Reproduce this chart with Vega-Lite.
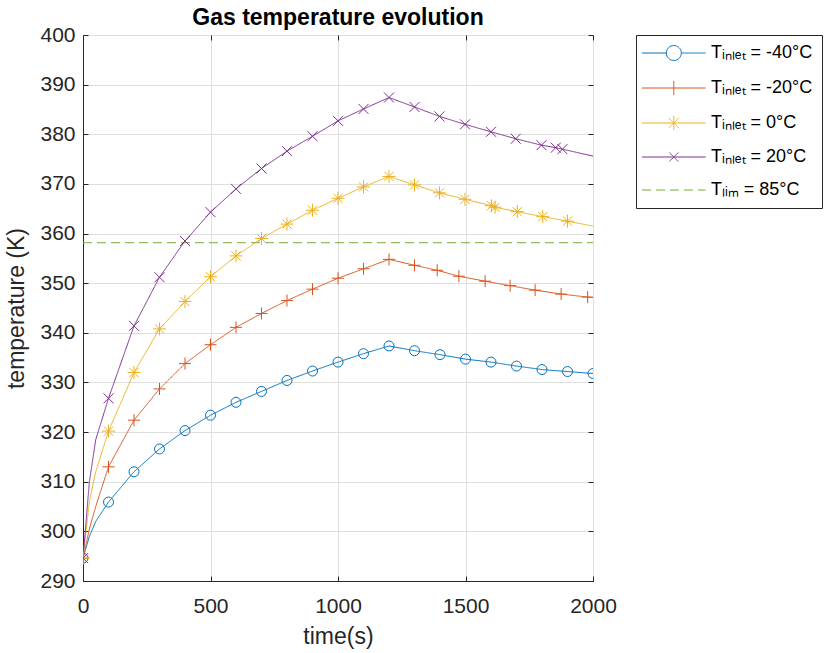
{
  "$schema": "https://vega.github.io/schema/vega-lite/v6.json",
  "width": 510,
  "height": 546,
  "autosize": {"type": "none"},
  "padding": {"left": 83, "top": 35, "right": 231, "bottom": 72},
  "background": "white",
  "title": {"text": "Gas temperature evolution", "fontSize": 23, "font": "Liberation Sans", "fontWeight": "bold", "color": "#000000", "offset": -6, "frame": "group", "anchor": "middle"},
  "config": {
    "font": "Liberation Sans",
    "view": {"stroke": "#262626", "strokeWidth": 1},
    "axis": {"domainColor": "#262626", "tickColor": "#262626", "labelColor": "#262626", "titleColor": "#262626", "labelFontSize": 21, "titleFontSize": 23, "titleFontWeight": "normal", "gridColor": "#dfdfdf", "labelFont": "Liberation Sans", "titleFont": "Liberation Sans"}
  },
  "datasets": {
    "lines": [
      {"series": "Tᵢₙₗₑₜ = -40°C", "t": 0, "T": 294.6},
      {"series": "Tᵢₙₗₑₜ = -40°C", "t": 25, "T": 299.0},
      {"series": "Tᵢₙₗₑₜ = -40°C", "t": 50, "T": 302.0},
      {"series": "Tᵢₙₗₑₜ = -40°C", "t": 100, "T": 305.9},
      {"series": "Tᵢₙₗₑₜ = -40°C", "t": 200, "T": 312.0},
      {"series": "Tᵢₙₗₑₜ = -40°C", "t": 300, "T": 316.6},
      {"series": "Tᵢₙₗₑₜ = -40°C", "t": 400, "T": 320.3},
      {"series": "Tᵢₙₗₑₜ = -40°C", "t": 500, "T": 323.4},
      {"series": "Tᵢₙₗₑₜ = -40°C", "t": 600, "T": 326.0},
      {"series": "Tᵢₙₗₑₜ = -40°C", "t": 700, "T": 328.2},
      {"series": "Tᵢₙₗₑₜ = -40°C", "t": 800, "T": 330.4},
      {"series": "Tᵢₙₗₑₜ = -40°C", "t": 900, "T": 332.3},
      {"series": "Tᵢₙₗₑₜ = -40°C", "t": 1000, "T": 334.1},
      {"series": "Tᵢₙₗₑₜ = -40°C", "t": 1100, "T": 335.8},
      {"series": "Tᵢₙₗₑₜ = -40°C", "t": 1200, "T": 337.35},
      {"series": "Tᵢₙₗₑₜ = -40°C", "t": 1300, "T": 336.4},
      {"series": "Tᵢₙₗₑₜ = -40°C", "t": 1400, "T": 335.6},
      {"series": "Tᵢₙₗₑₜ = -40°C", "t": 1500, "T": 334.7},
      {"series": "Tᵢₙₗₑₜ = -40°C", "t": 1600, "T": 334.1},
      {"series": "Tᵢₙₗₑₜ = -40°C", "t": 1700, "T": 333.3},
      {"series": "Tᵢₙₗₑₜ = -40°C", "t": 1800, "T": 332.6},
      {"series": "Tᵢₙₗₑₜ = -40°C", "t": 1900, "T": 332.2},
      {"series": "Tᵢₙₗₑₜ = -40°C", "t": 2000, "T": 331.8},
      {"series": "Tᵢₙₗₑₜ = -20°C", "t": 0, "T": 294.6},
      {"series": "Tᵢₙₗₑₜ = -20°C", "t": 25, "T": 300.5},
      {"series": "Tᵢₙₗₑₜ = -20°C", "t": 50, "T": 305.0},
      {"series": "Tᵢₙₗₑₜ = -20°C", "t": 100, "T": 313.0},
      {"series": "Tᵢₙₗₑₜ = -20°C", "t": 200, "T": 322.4},
      {"series": "Tᵢₙₗₑₜ = -20°C", "t": 300, "T": 328.7},
      {"series": "Tᵢₙₗₑₜ = -20°C", "t": 400, "T": 333.8},
      {"series": "Tᵢₙₗₑₜ = -20°C", "t": 500, "T": 337.6},
      {"series": "Tᵢₙₗₑₜ = -20°C", "t": 600, "T": 341.1},
      {"series": "Tᵢₙₗₑₜ = -20°C", "t": 700, "T": 343.9},
      {"series": "Tᵢₙₗₑₜ = -20°C", "t": 800, "T": 346.5},
      {"series": "Tᵢₙₗₑₜ = -20°C", "t": 900, "T": 348.8},
      {"series": "Tᵢₙₗₑₜ = -20°C", "t": 1000, "T": 351.0},
      {"series": "Tᵢₙₗₑₜ = -20°C", "t": 1100, "T": 352.9},
      {"series": "Tᵢₙₗₑₜ = -20°C", "t": 1200, "T": 354.8},
      {"series": "Tᵢₙₗₑₜ = -20°C", "t": 1300, "T": 353.6},
      {"series": "Tᵢₙₗₑₜ = -20°C", "t": 1389, "T": 352.6},
      {"series": "Tᵢₙₗₑₜ = -20°C", "t": 1474, "T": 351.4},
      {"series": "Tᵢₙₗₑₜ = -20°C", "t": 1577, "T": 350.4},
      {"series": "Tᵢₙₗₑₜ = -20°C", "t": 1675, "T": 349.5},
      {"series": "Tᵢₙₗₑₜ = -20°C", "t": 1773, "T": 348.6},
      {"series": "Tᵢₙₗₑₜ = -20°C", "t": 1875, "T": 347.8},
      {"series": "Tᵢₙₗₑₜ = -20°C", "t": 1979, "T": 347.2},
      {"series": "Tᵢₙₗₑₜ = -20°C", "t": 2000, "T": 347.1},
      {"series": "Tᵢₙₗₑₜ = 0°C", "t": 0, "T": 294.6},
      {"series": "Tᵢₙₗₑₜ = 0°C", "t": 25, "T": 306.0},
      {"series": "Tᵢₙₗₑₜ = 0°C", "t": 50, "T": 312.0},
      {"series": "Tᵢₙₗₑₜ = 0°C", "t": 100, "T": 320.2},
      {"series": "Tᵢₙₗₑₜ = 0°C", "t": 200, "T": 332.0},
      {"series": "Tᵢₙₗₑₜ = 0°C", "t": 300, "T": 340.8},
      {"series": "Tᵢₙₗₑₜ = 0°C", "t": 400, "T": 346.3},
      {"series": "Tᵢₙₗₑₜ = 0°C", "t": 500, "T": 351.3},
      {"series": "Tᵢₙₗₑₜ = 0°C", "t": 600, "T": 355.5},
      {"series": "Tᵢₙₗₑₜ = 0°C", "t": 700, "T": 359.0},
      {"series": "Tᵢₙₗₑₜ = 0°C", "t": 800, "T": 361.9},
      {"series": "Tᵢₙₗₑₜ = 0°C", "t": 900, "T": 364.7},
      {"series": "Tᵢₙₗₑₜ = 0°C", "t": 1000, "T": 367.1},
      {"series": "Tᵢₙₗₑₜ = 0°C", "t": 1100, "T": 369.4},
      {"series": "Tᵢₙₗₑₜ = 0°C", "t": 1200, "T": 371.5},
      {"series": "Tᵢₙₗₑₜ = 0°C", "t": 1300, "T": 369.8},
      {"series": "Tᵢₙₗₑₜ = 0°C", "t": 1398, "T": 368.2},
      {"series": "Tᵢₙₗₑₜ = 0°C", "t": 1498, "T": 366.9},
      {"series": "Tᵢₙₗₑₜ = 0°C", "t": 1602, "T": 365.6},
      {"series": "Tᵢₙₗₑₜ = 0°C", "t": 1616, "T": 365.3},
      {"series": "Tᵢₙₗₑₜ = 0°C", "t": 1703, "T": 364.4},
      {"series": "Tᵢₙₗₑₜ = 0°C", "t": 1803, "T": 363.4},
      {"series": "Tᵢₙₗₑₜ = 0°C", "t": 1900, "T": 362.5},
      {"series": "Tᵢₙₗₑₜ = 0°C", "t": 2000, "T": 361.5},
      {"series": "Tᵢₙₗₑₜ = 20°C", "t": 0, "T": 294.6},
      {"series": "Tᵢₙₗₑₜ = 20°C", "t": 25, "T": 310.0},
      {"series": "Tᵢₙₗₑₜ = 20°C", "t": 50, "T": 318.5},
      {"series": "Tᵢₙₗₑₜ = 20°C", "t": 100, "T": 326.8},
      {"series": "Tᵢₙₗₑₜ = 20°C", "t": 200, "T": 341.4},
      {"series": "Tᵢₙₗₑₜ = 20°C", "t": 300, "T": 351.2},
      {"series": "Tᵢₙₗₑₜ = 20°C", "t": 400, "T": 358.5},
      {"series": "Tᵢₙₗₑₜ = 20°C", "t": 500, "T": 364.3},
      {"series": "Tᵢₙₗₑₜ = 20°C", "t": 600, "T": 369.0},
      {"series": "Tᵢₙₗₑₜ = 20°C", "t": 700, "T": 373.1},
      {"series": "Tᵢₙₗₑₜ = 20°C", "t": 800, "T": 376.6},
      {"series": "Tᵢₙₗₑₜ = 20°C", "t": 900, "T": 379.6},
      {"series": "Tᵢₙₗₑₜ = 20°C", "t": 1000, "T": 382.7},
      {"series": "Tᵢₙₗₑₜ = 20°C", "t": 1100, "T": 385.1},
      {"series": "Tᵢₙₗₑₜ = 20°C", "t": 1200, "T": 387.4},
      {"series": "Tᵢₙₗₑₜ = 20°C", "t": 1300, "T": 385.5},
      {"series": "Tᵢₙₗₑₜ = 20°C", "t": 1398, "T": 383.6},
      {"series": "Tᵢₙₗₑₜ = 20°C", "t": 1498, "T": 382.0},
      {"series": "Tᵢₙₗₑₜ = 20°C", "t": 1600, "T": 380.5},
      {"series": "Tᵢₙₗₑₜ = 20°C", "t": 1697, "T": 379.1},
      {"series": "Tᵢₙₗₑₜ = 20°C", "t": 1798, "T": 377.8},
      {"series": "Tᵢₙₗₑₜ = 20°C", "t": 1854, "T": 377.3},
      {"series": "Tᵢₙₗₑₜ = 20°C", "t": 1880, "T": 377.0},
      {"series": "Tᵢₙₗₑₜ = 20°C", "t": 2000, "T": 375.6},
      {"series": "Tₗᵢₘ = 85°C", "t": 0, "T": 358.15},
      {"series": "Tₗᵢₘ = 85°C", "t": 2000, "T": 358.15}
    ],
    "markers": [
      {"series": "Tᵢₙₗₑₜ = -40°C", "t": 0, "T": 294.6},
      {"series": "Tᵢₙₗₑₜ = -40°C", "t": 100, "T": 305.9},
      {"series": "Tᵢₙₗₑₜ = -40°C", "t": 200, "T": 312.0},
      {"series": "Tᵢₙₗₑₜ = -40°C", "t": 300, "T": 316.6},
      {"series": "Tᵢₙₗₑₜ = -40°C", "t": 400, "T": 320.3},
      {"series": "Tᵢₙₗₑₜ = -40°C", "t": 500, "T": 323.4},
      {"series": "Tᵢₙₗₑₜ = -40°C", "t": 600, "T": 326.0},
      {"series": "Tᵢₙₗₑₜ = -40°C", "t": 700, "T": 328.2},
      {"series": "Tᵢₙₗₑₜ = -40°C", "t": 800, "T": 330.4},
      {"series": "Tᵢₙₗₑₜ = -40°C", "t": 900, "T": 332.3},
      {"series": "Tᵢₙₗₑₜ = -40°C", "t": 1000, "T": 334.1},
      {"series": "Tᵢₙₗₑₜ = -40°C", "t": 1100, "T": 335.8},
      {"series": "Tᵢₙₗₑₜ = -40°C", "t": 1200, "T": 337.35},
      {"series": "Tᵢₙₗₑₜ = -40°C", "t": 1300, "T": 336.4},
      {"series": "Tᵢₙₗₑₜ = -40°C", "t": 1400, "T": 335.6},
      {"series": "Tᵢₙₗₑₜ = -40°C", "t": 1500, "T": 334.7},
      {"series": "Tᵢₙₗₑₜ = -40°C", "t": 1600, "T": 334.1},
      {"series": "Tᵢₙₗₑₜ = -40°C", "t": 1700, "T": 333.3},
      {"series": "Tᵢₙₗₑₜ = -40°C", "t": 1800, "T": 332.6},
      {"series": "Tᵢₙₗₑₜ = -40°C", "t": 1900, "T": 332.2},
      {"series": "Tᵢₙₗₑₜ = -40°C", "t": 2000, "T": 331.8},
      {"series": "Tᵢₙₗₑₜ = -20°C", "t": 0, "T": 294.6},
      {"series": "Tᵢₙₗₑₜ = -20°C", "t": 100, "T": 313.0},
      {"series": "Tᵢₙₗₑₜ = -20°C", "t": 200, "T": 322.4},
      {"series": "Tᵢₙₗₑₜ = -20°C", "t": 300, "T": 328.7},
      {"series": "Tᵢₙₗₑₜ = -20°C", "t": 400, "T": 333.8},
      {"series": "Tᵢₙₗₑₜ = -20°C", "t": 500, "T": 337.6},
      {"series": "Tᵢₙₗₑₜ = -20°C", "t": 600, "T": 341.1},
      {"series": "Tᵢₙₗₑₜ = -20°C", "t": 700, "T": 343.9},
      {"series": "Tᵢₙₗₑₜ = -20°C", "t": 800, "T": 346.5},
      {"series": "Tᵢₙₗₑₜ = -20°C", "t": 900, "T": 348.8},
      {"series": "Tᵢₙₗₑₜ = -20°C", "t": 1000, "T": 351.0},
      {"series": "Tᵢₙₗₑₜ = -20°C", "t": 1100, "T": 352.9},
      {"series": "Tᵢₙₗₑₜ = -20°C", "t": 1200, "T": 354.8},
      {"series": "Tᵢₙₗₑₜ = -20°C", "t": 1300, "T": 353.6},
      {"series": "Tᵢₙₗₑₜ = -20°C", "t": 1389, "T": 352.6},
      {"series": "Tᵢₙₗₑₜ = -20°C", "t": 1474, "T": 351.4},
      {"series": "Tᵢₙₗₑₜ = -20°C", "t": 1577, "T": 350.4},
      {"series": "Tᵢₙₗₑₜ = -20°C", "t": 1675, "T": 349.5},
      {"series": "Tᵢₙₗₑₜ = -20°C", "t": 1773, "T": 348.6},
      {"series": "Tᵢₙₗₑₜ = -20°C", "t": 1875, "T": 347.8},
      {"series": "Tᵢₙₗₑₜ = -20°C", "t": 1979, "T": 347.2},
      {"series": "Tᵢₙₗₑₜ = 0°C", "t": 0, "T": 294.6},
      {"series": "Tᵢₙₗₑₜ = 0°C", "t": 100, "T": 320.2},
      {"series": "Tᵢₙₗₑₜ = 0°C", "t": 200, "T": 332.0},
      {"series": "Tᵢₙₗₑₜ = 0°C", "t": 300, "T": 340.8},
      {"series": "Tᵢₙₗₑₜ = 0°C", "t": 400, "T": 346.3},
      {"series": "Tᵢₙₗₑₜ = 0°C", "t": 500, "T": 351.3},
      {"series": "Tᵢₙₗₑₜ = 0°C", "t": 600, "T": 355.5},
      {"series": "Tᵢₙₗₑₜ = 0°C", "t": 700, "T": 359.0},
      {"series": "Tᵢₙₗₑₜ = 0°C", "t": 800, "T": 361.9},
      {"series": "Tᵢₙₗₑₜ = 0°C", "t": 900, "T": 364.7},
      {"series": "Tᵢₙₗₑₜ = 0°C", "t": 1000, "T": 367.1},
      {"series": "Tᵢₙₗₑₜ = 0°C", "t": 1100, "T": 369.4},
      {"series": "Tᵢₙₗₑₜ = 0°C", "t": 1200, "T": 371.5},
      {"series": "Tᵢₙₗₑₜ = 0°C", "t": 1300, "T": 369.8},
      {"series": "Tᵢₙₗₑₜ = 0°C", "t": 1398, "T": 368.2},
      {"series": "Tᵢₙₗₑₜ = 0°C", "t": 1498, "T": 366.9},
      {"series": "Tᵢₙₗₑₜ = 0°C", "t": 1602, "T": 365.6},
      {"series": "Tᵢₙₗₑₜ = 0°C", "t": 1616, "T": 365.3},
      {"series": "Tᵢₙₗₑₜ = 0°C", "t": 1703, "T": 364.4},
      {"series": "Tᵢₙₗₑₜ = 0°C", "t": 1803, "T": 363.4},
      {"series": "Tᵢₙₗₑₜ = 0°C", "t": 1900, "T": 362.5},
      {"series": "Tᵢₙₗₑₜ = 20°C", "t": 0, "T": 294.6},
      {"series": "Tᵢₙₗₑₜ = 20°C", "t": 100, "T": 326.8},
      {"series": "Tᵢₙₗₑₜ = 20°C", "t": 200, "T": 341.4},
      {"series": "Tᵢₙₗₑₜ = 20°C", "t": 300, "T": 351.2},
      {"series": "Tᵢₙₗₑₜ = 20°C", "t": 400, "T": 358.5},
      {"series": "Tᵢₙₗₑₜ = 20°C", "t": 500, "T": 364.3},
      {"series": "Tᵢₙₗₑₜ = 20°C", "t": 600, "T": 369.0},
      {"series": "Tᵢₙₗₑₜ = 20°C", "t": 700, "T": 373.1},
      {"series": "Tᵢₙₗₑₜ = 20°C", "t": 800, "T": 376.6},
      {"series": "Tᵢₙₗₑₜ = 20°C", "t": 900, "T": 379.6},
      {"series": "Tᵢₙₗₑₜ = 20°C", "t": 1000, "T": 382.7},
      {"series": "Tᵢₙₗₑₜ = 20°C", "t": 1100, "T": 385.1},
      {"series": "Tᵢₙₗₑₜ = 20°C", "t": 1200, "T": 387.4},
      {"series": "Tᵢₙₗₑₜ = 20°C", "t": 1300, "T": 385.5},
      {"series": "Tᵢₙₗₑₜ = 20°C", "t": 1398, "T": 383.6},
      {"series": "Tᵢₙₗₑₜ = 20°C", "t": 1498, "T": 382.0},
      {"series": "Tᵢₙₗₑₜ = 20°C", "t": 1600, "T": 380.5},
      {"series": "Tᵢₙₗₑₜ = 20°C", "t": 1697, "T": 379.1},
      {"series": "Tᵢₙₗₑₜ = 20°C", "t": 1798, "T": 377.8},
      {"series": "Tᵢₙₗₑₜ = 20°C", "t": 1854, "T": 377.3},
      {"series": "Tᵢₙₗₑₜ = 20°C", "t": 1880, "T": 377.0}
    ]
  },
  "layer": [
    {
      "data": {"name": "lines"},
      "mark": {"type": "line", "strokeWidth": 1, "clip": true},
      "encoding": {
        "x": {"field": "t", "type": "quantitative", "scale": {"domain": [0, 2000], "nice": false},
              "axis": {"title": "time(s)", "values": [0, 500, 1000, 1500, 2000], "format": "d", "grid": true, "tickSize": -5, "labelPadding": 19, "titlePadding": 9, "labelFlush": false}},
        "y": {"field": "T", "type": "quantitative", "scale": {"domain": [290, 400], "nice": false, "zero": false},
              "axis": {"title": "temperature (K)", "values": [290, 300, 310, 320, 330, 340, 350, 360, 370, 380, 390, 400], "grid": true, "tickSize": -5, "labelPadding": 13, "titlePadding": 11}},
        "color": {"field": "series", "type": "nominal",
                  "scale": {"domain": ["Tᵢₙₗₑₜ = -40°C", "Tᵢₙₗₑₜ = -20°C", "Tᵢₙₗₑₜ = 0°C", "Tᵢₙₗₑₜ = 20°C", "Tₗᵢₘ = 85°C"], "range": ["#0072BD", "#D95319", "#EDB120", "#7E2F8E", "#77AC30"]},
                  "legend": {"title": null, "orient": "right", "offset": 42, "symbolSize": 169, "symbolStrokeWidth": 1, "labelFontSize": 18, "labelColor": "#000000", "labelFont": "Liberation Sans", "labelOffset": 48, "strokeColor": "#262626", "fillColor": "white", "padding": 9, "rowPadding": 15,
                    "encode": {"symbols": {"update": {"shape": {"signal": "datum.value == 'Tᵢₙₗₑₜ = -40°C' ? 'M-1.85,0H1.9M4.2,0H7.95M1.9,0A1.15,1.15 0 1,0 4.2,0A1.15,1.15 0 1,0 1.9,0' : datum.value == 'Tᵢₙₗₑₜ = -20°C' ? 'M-1.85,0H7.95M3.05,-1.1V1.1' : datum.value == 'Tᵢₙₗₑₜ = 0°C' ? 'M-1.85,0H7.95M3.05,-1.1V1.1M2.25,-0.8L3.85,0.8M2.25,0.8L3.85,-0.8' : datum.value == 'Tᵢₙₗₑₜ = 20°C' ? 'M-1.85,0H7.95M2.35,-0.7L3.75,0.7M2.35,0.7L3.75,-0.7' : 'M-1.85,0H7.95'"}}}}}},
        "strokeDash": {"field": "series", "type": "nominal",
                  "scale": {"domain": ["Tᵢₙₗₑₜ = -40°C", "Tᵢₙₗₑₜ = -20°C", "Tᵢₙₗₑₜ = 0°C", "Tᵢₙₗₑₜ = 20°C", "Tₗᵢₘ = 85°C"], "range": [[1, 0], [1, 0], [1, 0], [1, 0], [9, 5]]},
                  "legend": {"title": null}}
      }
    },
    {
      "data": {"name": "markers"},
      "mark": {"type": "point", "filled": false, "strokeWidth": 1, "opacity": 1, "size": 100, "clip": true},
      "encoding": {
        "x": {"field": "t", "type": "quantitative", "scale": {"domain": [0, 2000], "nice": false},
              "axis": {"orient": "top", "title": null, "labels": false, "grid": false, "domain": false, "tickSize": -5, "values": [0, 500, 1000, 1500, 2000]}},
        "y": {"field": "T", "type": "quantitative", "scale": {"domain": [290, 400], "nice": false, "zero": false},
              "axis": {"orient": "right", "title": null, "labels": false, "grid": false, "domain": false, "tickSize": -5, "values": [290, 300, 310, 320, 330, 340, 350, 360, 370, 380, 390, 400]}},
        "color": {"field": "series", "type": "nominal", "legend": null},
        "shape": {"field": "series", "type": "nominal", "legend": null,
                  "scale": {"domain": ["Tᵢₙₗₑₜ = -40°C", "Tᵢₙₗₑₜ = -20°C", "Tᵢₙₗₑₜ = 0°C", "Tᵢₙₗₑₜ = 20°C"],
                            "range": ["circle", "M-1.2,0H1.2M0,-1.2V1.2", "M-1.3,0H1.3M0,-1.3V1.3M-0.92,-0.92L0.92,0.92M-0.92,0.92L0.92,-0.92", "M-1,-1L1,1M-1,1L1,-1"]}}
      }
    }
  ],
  "resolve": {"axis": {"x": "independent", "y": "independent"}}
}
